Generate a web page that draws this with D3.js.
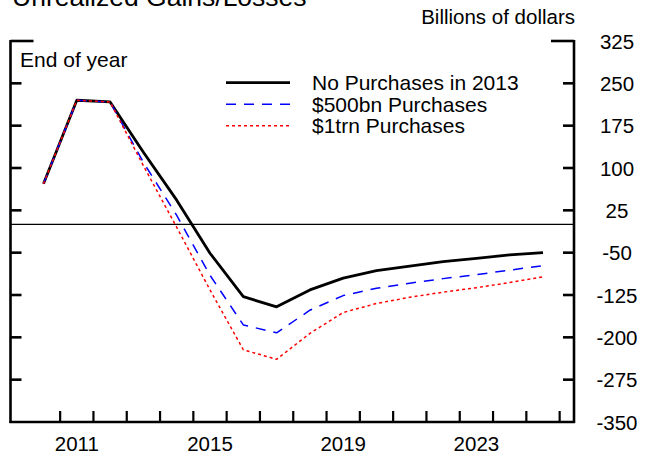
<!DOCTYPE html>
<html>
<head>
<meta charset="utf-8">
<script src="https://cdn.jsdelivr.net/npm/d3@7"></script>
<style>
html,body{margin:0;padding:0;background:#fff;}
svg{display:block;font-family:"Liberation Sans",Arial,Helvetica,sans-serif;}
</style>
</head>
<body>
<svg id="chart" width="655" height="457"></svg>
<script>
const years = [2010,2011,2012,2013,2014,2015,2016,2017,2018,2019,2020,2021,2022,2023,2024,2025];
const noPurchases = [72,220,217,128,43,-51,-128,-146,-116,-95,-82,-74,-66,-60,-54,-50];
const purchases500 = [72,220,217,110,16,-90,-178,-192,-152,-126,-113,-104,-96,-89,-81,-73];
const purchases1trn = [72,220,217,104,-5,-116,-222,-239,-193,-156,-140,-129,-120,-112,-103,-93];
const yTicks = [325,250,175,100,25,-50,-125,-200,-275,-350];
const xLabels = [2011,2015,2019,2023];
const seriesNames = ["No Purchases in 2013","$500bn Purchases","$1trn Purchases"];

const svg = d3.select("#chart");
const x = d3.scaleLinear().domain([2010,2025]).range([43.5,543]);
const y = d3.scaleLinear().domain([-350,325]).range([422,41]);
const left = 10.5, right = 574;

// title (partially clipped at top, as in the reference)
svg.append("text").attr("x",12).attr("y",5.5).attr("font-size",26.5).text("Unrealized Gains/Losses");
svg.append("text").attr("x",575).attr("y",24).attr("text-anchor","end").attr("font-size",20.5).text("Billions of dollars");
svg.append("text").attr("x",20).attr("y",67).attr("font-size",21).text("End of year");

// zero line
svg.append("line").attr("x1",left).attr("x2",right).attr("y1",y(0)).attr("y2",y(0))
  .attr("stroke","#000").attr("stroke-width",1.2);

// frame
const frame = svg.append("g").attr("stroke","#000").attr("stroke-width",2.6).attr("fill","none");
frame.append("line").attr("x1",left).attr("x2",left).attr("y1",y(325)-1).attr("y2",y(-350)+1);
frame.append("line").attr("x1",right).attr("x2",right).attr("y1",y(325)-1).attr("y2",y(-350)+1);
frame.append("line").attr("x1",left-1).attr("x2",right+1).attr("y1",y(-350)).attr("y2",y(-350));

// y ticks on both sides
yTicks.forEach(v => {
  if (v === -350) return;
  const len = v === 325 ? 23 : 11;
  frame.append("line").attr("x1",left).attr("x2",left+len).attr("y1",y(v)).attr("y2",y(v));
  frame.append("line").attr("x1",right-len).attr("x2",right).attr("y1",y(v)).attr("y2",y(v));
});
// right y labels
svg.append("g").selectAll("text").data(yTicks).join("text")
  .attr("x",617).attr("y",d=>y(d)+7.5).attr("text-anchor","middle").attr("font-size",20.5)
  .text(d=>d);

// x ticks at year boundaries
const xTickPos = d3.range(2010.5,2026,1);
frame.selectAll("line.xt").data(xTickPos).join("line").attr("class","xt")
  .attr("x1",d=>x(d)).attr("x2",d=>x(d)).attr("y1",y(-350)).attr("y2",y(-350)-11)
  .attr("stroke-width",2.2);
svg.append("g").selectAll("text").data(xLabels).join("text")
  .attr("x",d=>x(d)).attr("y",451).attr("text-anchor","middle").attr("font-size",20.5)
  .text(d=>d);

const line = d3.line().x((d,i)=>x(years[i])).y(d=>y(d));
const styles = [
  {data:noPurchases, color:"#000", w:2.8, dash:null},
  {data:purchases500, color:"#0000ff", w:1.5, dash:"10,8"},
  {data:purchases1trn, color:"#ff0000", w:1.5, dash:"3,3"}
];
styles.forEach(s => {
  svg.append("path").datum(s.data).attr("d",line).attr("fill","none")
    .attr("stroke",s.color).attr("stroke-width",s.w)
    .attr("stroke-dasharray",s.dash).attr("stroke-linejoin","round");
});

// legend
const lg = svg.append("g");
styles.forEach((s,i) => {
  const ly = 82.7 + i*21.5;
  lg.append("line").attr("x1",226).attr("x2",290).attr("y1",ly).attr("y2",ly)
    .attr("stroke",s.color).attr("stroke-width",s.w).attr("stroke-dasharray",s.dash);
  lg.append("text").attr("x",312).attr("y",ly+7.5).attr("font-size",21).text(seriesNames[i]);
});
</script>
</body>
</html>
